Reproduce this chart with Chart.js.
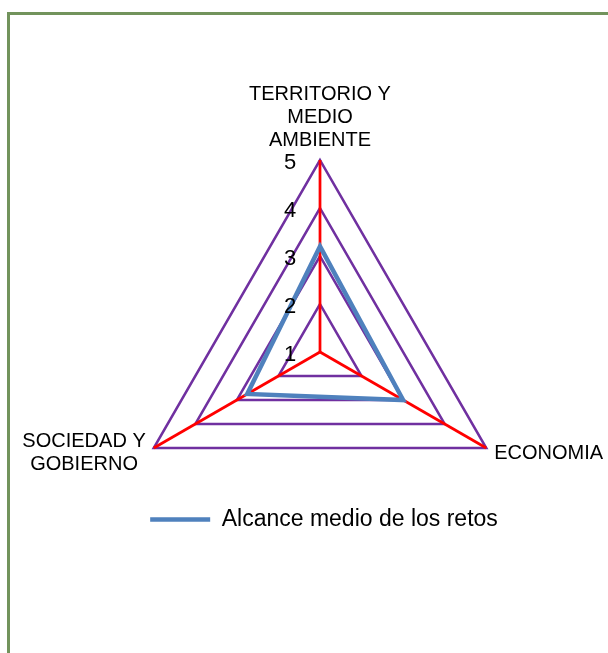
<!DOCTYPE html>
<html><head><meta charset="utf-8">
<script src="https://cdn.jsdelivr.net/npm/chart.js@4.4.1/dist/chart.umd.min.js"></script>
<style>
html,body{margin:0;padding:0;background:#fff;}
#wrap{position:relative;width:608px;height:653px;overflow:hidden;background:#fff;}
#frame{position:absolute;left:7px;top:12px;width:700px;height:800px;border-left:3px solid #72935c;border-top:3px solid #72935c;}
canvas{position:absolute;left:0;top:0;}
</style></head><body>
<div id="wrap"><div id="frame"></div><canvas id="c" width="608" height="653"></canvas></div>
<script>
const categories = [["TERRITORIO Y","MEDIO","AMBIENTE"], ["ECONOMIA"], ["SOCIEDAD Y","GOBIERNO"]];
const seriesName = "Alcance medio de los retos";
const seriesValues = [3.2, 3.0, 2.75];
const tickLabels = [1, 2, 3, 4, 5];

const FONT = '"Liberation Sans", Arial, sans-serif';

const labelPlugin = {
  id: 'customLabels',
  afterDatasetsDraw(chart) {
    const s = chart.scales.r;
    const ctx = chart.ctx;
    ctx.save();
    ctx.fillStyle = '#000';
    ctx.textBaseline = 'middle';
    ctx.textAlign = 'center';
    // tick labels
    ctx.font = '22px ' + FONT;
    tickLabels.forEach(v => {
      const d = s.getDistanceFromCenterForValue(v);
      ctx.fillText(String(v), s.xCenter - 30, s.yCenter - d + 3);
    });
    // point labels
    ctx.font = '20px ' + FONT;
    const lh = 23;
    categories.forEach((lines, i) => {
      const p = s.getPointPositionForValue(i, s.max);
      const w = Math.max(...lines.map(t => ctx.measureText(t).width));
      const n = lines.length;
      let cx, firstY;
      if (Math.abs(p.x - s.xCenter) < 1) {
        cx = p.x;
        firstY = p.y - 20 - (n - 1) * lh;
      } else if (p.x > s.xCenter) {
        cx = p.x + 8 + w / 2;
        firstY = p.y + 5 - (n - 1) * lh / 2;
      } else {
        cx = p.x - 8 - w / 2;
        firstY = p.y + 5 - (n - 1) * lh / 2;
      }
      lines.forEach((t, k) => ctx.fillText(t, cx, firstY + k * lh));
    });
    ctx.restore();
  }
};

new Chart(document.getElementById('c'), {
  type: 'radar',
  data: {
    labels: categories.map(l => l.join(' ')),
    datasets: [{
      label: seriesName,
      data: seriesValues,
      borderColor: '#4F81BD',
      backgroundColor: 'rgba(0,0,0,0)',
      borderWidth: 4.5,
      fill: false,
      pointRadius: 0,
      pointHoverRadius: 0,
      tension: 0,
      clip: false
    }]
  },
  options: {
    responsive: false,
    animation: false,
    devicePixelRatio: 1,
    layout: { padding: { left: 40, right: 0, top: 0, bottom: 112 } },
    plugins: {
      legend: {
        position: 'bottom',
        labels: {
          usePointStyle: true,
          pointStyle: 'line',
          pointStyleWidth: 60,
          padding: 10,
          color: '#000',
          font: { size: 23, family: FONT }
        }
      },
      tooltip: { enabled: false }
    },
    scales: {
      r: {
        min: 1,
        max: 5,
        ticks: { display: false, stepSize: 1 },
        pointLabels: { display: false },
        grid: { color: '#7030A0', lineWidth: 2.5 },
        angleLines: { color: '#FF0000', lineWidth: 2.75 },
        afterFit: (scale) => {
          scale.xCenter = 320;
          scale.yCenter = 352;
          scale.drawingArea = 192;
        }
      }
    }
  },
  plugins: [labelPlugin]
});
</script>
</body></html>
